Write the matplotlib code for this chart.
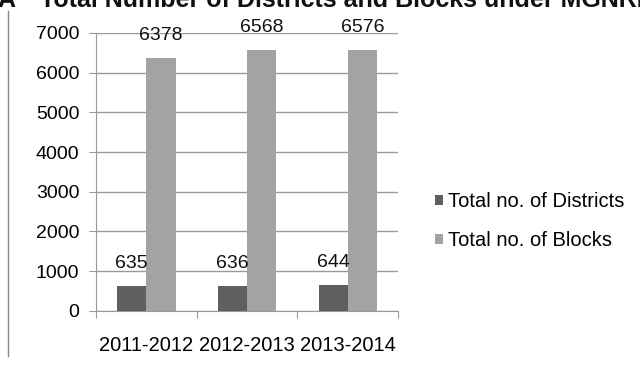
import numpy as np
import matplotlib
matplotlib.use("Agg")
import matplotlib.pyplot as plt

# data
years = ["2011-2012", "2012-2013", "2013-2014"]
districts = [635, 636, 644]
blocks = [6378, 6568, 6576]
series_names = ["Total no. of Districts", "Total no. of Blocks"]

plt.rcParams['font.family'] = ['Liberation Sans', 'DejaVu Sans']
fs = 14

fig = plt.figure(figsize=(6.4, 3.75), dpi=100)
ax = fig.add_axes([0.15, 0.171, 0.472, 0.741])

x = np.arange(len(years))
w = 0.29
b1 = ax.bar(x - w/2, districts, w, color='#5f5f5f', label=series_names[0], zorder=3)
b2 = ax.bar(x + w/2, blocks, w, color='#a3a3a3', label=series_names[1], zorder=3)

for bars in (b1, b2):
    for r in bars:
        ax.annotate(str(int(r.get_height())), (r.get_x() + r.get_width()/2, r.get_height()),
                    xytext=(0, 10), textcoords='offset points', ha='center', va='bottom',
                    fontsize=fs, color='#111111')

ax.set_ylim(0, 7000)
ax.set_yticks(range(0, 7001, 1000))
ax.set_xlim(-0.5, 2.5)
ax.set_xticks([-0.5, 0.5, 1.5, 2.5])
ax.set_xticklabels([])
ax.set_xticks(x, minor=True)
ax.set_xticklabels(years, minor=True, fontsize=14.5)
ax.tick_params(axis='x', which='minor', length=0, pad=18)
ax.tick_params(axis='x', which='major', length=5, color='#999999')
ax.tick_params(axis='y', length=5, color='#999999', labelsize=fs, pad=7)
ax.grid(axis='y', color='#9a9a9a', linewidth=1, zorder=0)
for s in ['top', 'right']:
    ax.spines[s].set_visible(False)
for s in ['left', 'bottom']:
    ax.spines[s].set_color('#999999')

ax.legend(loc='center left', bbox_to_anchor=(1.122, 0.322), frameon=False, fontsize=14.5,
          borderaxespad=0, borderpad=0, handlelength=0.42, handleheight=0.42,
          handletextpad=0.25, labelspacing=1.0)

# partial heading cut off at the top and page border line
fig.text(-0.004, 0.981, "A", fontsize=18, fontweight='bold', va='baseline', ha='left', color='#111111')
fig.text(40/640, 0.981, "Total Number of Districts and Blocks under MGNREGA", fontsize=18,
         fontweight='bold', va='baseline', ha='left', color='#111111')
fig.add_artist(plt.Line2D([0.013, 0.013], [0.05, 0.97], color='#888888', linewidth=1))

fig.savefig("out.png", dpi=100)
